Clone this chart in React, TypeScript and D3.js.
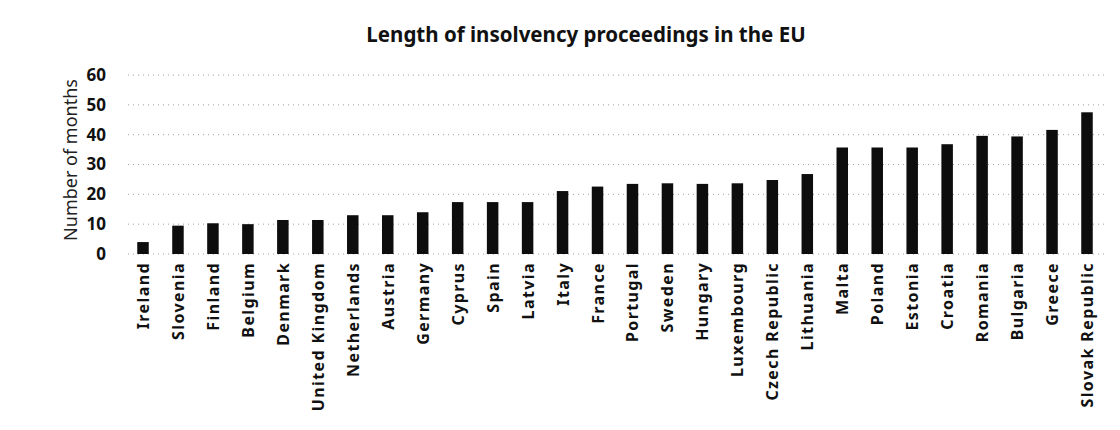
import { useEffect, useRef } from "react";
import * as d3 from "d3";

const countries = [
	"Ireland", "Slovenia", "Finland", "Belgium", "Denmark", "United Kingdom",
	"Netherlands", "Austria", "Germany", "Cyprus", "Spain", "Latvia", "Italy",
	"France", "Portugal", "Sweden", "Hungary", "Luxembourg", "Czech Republic",
	"Lithuania", "Malta", "Poland", "Estonia", "Croatia", "Romania", "Bulgaria",
	"Greece", "Slovak Republic",
];
const months = [
	4, 9.5, 10.3, 10, 11.4, 11.4, 13, 13, 14, 17.4, 17.4, 17.4, 21.1, 22.6,
	23.5, 23.7, 23.5, 23.7, 24.8, 26.8, 35.7, 35.7, 35.7, 36.8, 39.6, 39.4,
	41.6, 47.5,
];
const yTicks = [0, 10, 20, 30, 40, 50, 60];

const TITLE = "Length of insolvency proceedings in the EU";
const Y_TITLE = "Number of months";

export default function App() {
	const svgRef = useRef<SVGSVGElement>(null);

	useEffect(() => {
		if (!svgRef.current) return;
		const width = 1120;
		const height = 430;
		const svg = d3.select(svgRef.current);
		svg.selectAll("*").remove();
		svg.attr("width", width).attr("height", height);

		const font = "'Noto Sans', 'Open Sans', sans-serif";

		const x = d3.scalePoint<string>().domain(countries).range([143, 1087]);
		const y = d3.scaleLinear().domain([0, 60]).range([254, 75]);
		const barW = 11.5;

		// gridlines
		svg.append("g")
			.selectAll("line")
			.data(yTicks)
			.join("line")
			.attr("x1", 128)
			.attr("x2", 1105)
			.attr("y1", (d) => y(d))
			.attr("y2", (d) => y(d))
			.attr("stroke", "#a0a0a0")
			.attr("stroke-width", 1)
			.attr("stroke-dasharray", "1,4");

		// y tick labels
		svg.append("g")
			.selectAll("text")
			.data(yTicks)
			.join("text")
			.attr("x", 106)
			.attr("y", (d) => y(d))
			.attr("dy", "0.35em")
			.attr("text-anchor", "end")
			.attr("font-family", font)
			.attr("font-weight", "bold")
			.attr("font-size", 17)
			.attr("fill", "#111")
			.text((d) => d);

		// bars
		svg.append("g")
			.selectAll("rect")
			.data(countries)
			.join("rect")
			.attr("x", (d) => (x(d) as number) - barW / 2)
			.attr("width", barW)
			.attr("y", (_, i) => y(months[i]))
			.attr("height", (_, i) => y(0) - y(months[i]))
			.attr("fill", "#0d0d0d");

		// category labels
		svg.append("g")
			.selectAll("text")
			.data(countries)
			.join("text")
			.attr("transform", (d) => `translate(${(x(d) as number) + 6},262) rotate(-90)`)
			.attr("text-anchor", "end")
			.attr("font-family", font)
			.attr("font-weight", "bold")
			.attr("font-size", 16)
			.attr("letter-spacing", 1.4)
			.attr("fill", "#111")
			.text((d) => d);

		// y axis title
		svg.append("text")
			.attr("transform", "translate(77,160) rotate(-90)")
			.attr("text-anchor", "middle")
			.attr("font-family", font)
			.attr("font-size", 18)
			.attr("fill", "#222")
			.text(Y_TITLE);

		// title
		svg.append("text")
			.attr("x", 586)
			.attr("y", 42)
			.attr("text-anchor", "middle")
			.attr("font-family", font)
			.attr("font-weight", "bold")
			.attr("font-size", 20.5)
			.attr("fill", "#111")
			.text(TITLE);
	}, []);

	return (
		<svg
			ref={svgRef}
			style={{ position: "absolute", left: 0, top: 0, background: "#fff" }}
		/>
	);
}
